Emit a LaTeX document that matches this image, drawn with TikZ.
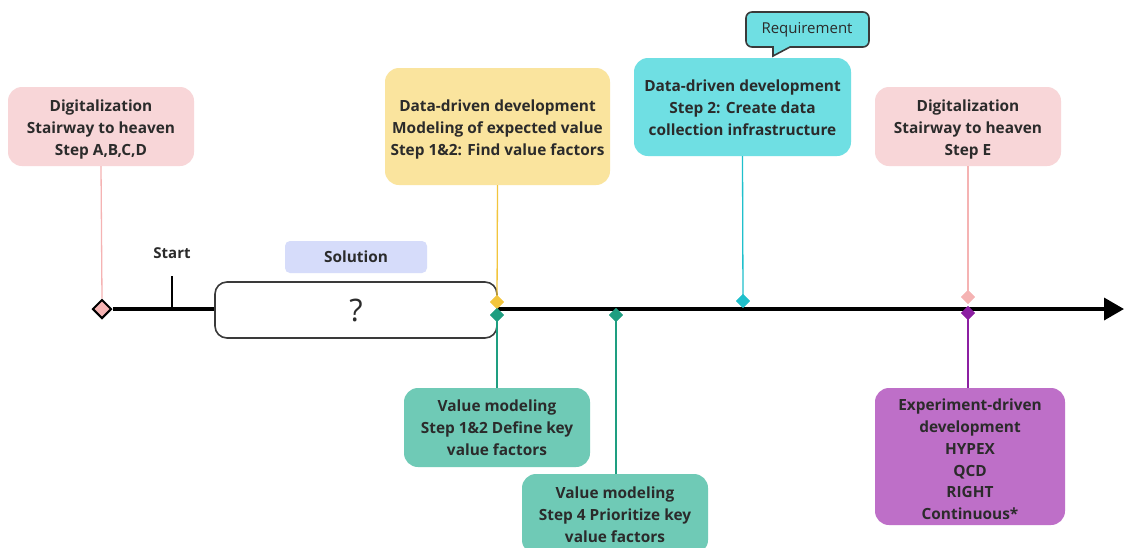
\documentclass[tikz,border=0pt]{standalone}
\usepackage{fontspec}
\setmainfont{Open Sans}
\usetikzlibrary{arrows.meta,shapes.geometric}

\definecolor{txt}{HTML}{2B2B2B}
\definecolor{pinkbox}{HTML}{F8D6D8}
\definecolor{pinkline}{HTML}{F5B3B3}
\definecolor{yellowbox}{HTML}{FAE49E}
\definecolor{yellowline}{HTML}{F2C53D}
\definecolor{cyanbox}{HTML}{6FDFE3}
\definecolor{cyanline}{HTML}{1FC0CC}
\definecolor{greenbox}{HTML}{6FCAB6}
\definecolor{greenline}{HTML}{1E9E80}
\definecolor{purplebox}{HTML}{BE6FC8}
\definecolor{purpleline}{HTML}{8C1FA2}
\definecolor{solbox}{HTML}{D6DCFA}
\definecolor{qborder}{HTML}{3A3A3A}

\tikzset{
  card/.style={rounded corners=14pt, inner sep=0pt},
  cardtext/.style={align=center, inner sep=0pt,
    font=\bfseries\fontsize{15.4}{21.8}\selectfont, text=txt},
  mark pin/.style={diamond, inner sep=0pt, minimum size=14pt},
  stem/.style={line width=1.3pt},
}

\begin{document}
\begin{tikzpicture}[x=1pt, y=-1pt]
\useasboundingbox (0,0) rectangle (1124,547);
\fill[white] (0,0) rectangle (1124,547);

% time axis
\node[diamond, draw=black, fill=pinkline, line width=2pt, inner sep=0pt,
      minimum size=19pt] (d0) at (102,309) {};
\coordinate (tip) at (1124,309);
\draw[line width=3.6pt, -{Triangle[length=20pt,width=22pt]}] (d0.east) -- (tip);

% start tick
\coordinate (st) at (172,309);
\coordinate (sttop) at (172,276);
\node[font=\bfseries\fontsize{15}{16}\selectfont, text=txt] (startlbl) at (172,253.5) {Start};
\draw[line width=1.3pt, black] (st) -- (sttop);

% solution
\node[fill=solbox, rounded corners=5pt, minimum width=142pt, minimum height=32pt,
      font=\bfseries\fontsize{15.4}{16}\selectfont, text=txt] (sol) at (356,257) {Solution};
\node[draw=qborder, fill=white, line width=1.6pt, rounded corners=12pt,
      minimum width=282pt, minimum height=56pt,
      font=\fontsize{31}{32}\selectfont, text=txt] (q) at (356,310) {?};

% cards above the axis
\node[card, fill=pinkbox, minimum width=186pt, minimum height=79pt,
      label={[cardtext, yshift=-3pt]center:{Digitalization\\Stairway to heaven\\Step A,B,C,D}}]
      (pkA) at (101,126.5) {};
\node[card, fill=yellowbox, minimum width=225pt, minimum height=117pt,
      label={[cardtext, yshift=-3pt]center:{Data-driven development\\Modeling of expected value\\Step 1\&2: Find value factors}}]
      (yl) at (497.5,126.5) {};
\node[card, fill=cyanbox, minimum width=217pt, minimum height=98pt,
      label={[cardtext, yshift=-1pt]center:{Data-driven development\\Step 2: Create data\\collection infrastructure}}]
      (cy) at (742.5,107) {};
\node[card, fill=pinkbox, minimum width=186pt, minimum height=79pt,
      label={[cardtext, yshift=-3pt]center:{Digitalization\\Stairway to heaven\\Step E}}]
      (pkE) at (968,126.5) {};

% requirement callout
\draw[fill=cyanbox, draw=qborder, line width=1.6pt]
  [rounded corners=6pt] (773,47) -- (746,47) -- (746,12) -- (869,12) -- (869,47)
  [sharp corners] -- (790,47) -- (773,56) -- cycle;
\node[font=\fontsize{15}{16}\selectfont, text=txt] (req) at (807,29.5) {Requirement};

% cards below the axis
\node[card, fill=greenbox, minimum width=186pt, minimum height=79pt,
      label={[cardtext, yshift=-0.5pt]center:{Value modeling\\Step 1\&2 Define key\\value factors}}]
      (gr1) at (497,427.5) {};
\node[card, fill=greenbox, minimum width=186pt, minimum height=80pt,
      label={[cardtext, yshift=-1pt]center:{Value modeling\\Step 4 Prioritize key\\value factors}}]
      (gr2) at (615,514) {};
\node[card, fill=purplebox, minimum width=190pt, minimum height=137pt,
      label={[cardtext, yshift=-3pt]center:{Experiment-driven\\development\\HYPEX\\QCD\\RIGHT\\Continuous*}}]
      (pu) at (970,456.5) {};

% markers on the axis
\node[mark pin, fill=yellowline] (dy) at (497,302) {};
\node[mark pin, fill=greenline] (dg1) at (497,315) {};
\node[mark pin, fill=greenline] (dg2) at (616,315) {};
\node[mark pin, fill=cyanline] (dc) at (743,301) {};
\node[mark pin, fill=pinkline] (dpE) at (968,297) {};
\node[mark pin, fill=purpleline] (dpu) at (968,313) {};

% stems
\draw[stem, pinkline] (pkA.south) -- (d0.north);
\draw[stem, yellowline] (yl.south) -- (dy.center);
\draw[stem, cyanline] (cy.south) -- (dc.center);
\draw[stem, pinkline] (pkE.south) -- (dpE.center);
\draw[stem, greenline] (dg1.center) -- (gr1.north);
\draw[stem, greenline] (dg2.center) -- (gr2.north -| dg2);
\draw[stem, purpleline] (dpu.center) -- (pu.north -| dpu);

% redraw markers over their stems
\node[mark pin, fill=yellowline] at (dy) {};
\node[mark pin, fill=greenline] at (dg1) {};
\node[mark pin, fill=greenline] at (dg2) {};
\node[mark pin, fill=cyanline] at (dc) {};
\node[mark pin, fill=pinkline] at (dpE) {};
\node[mark pin, fill=purpleline] at (dpu) {};
\end{tikzpicture}
\end{document}
